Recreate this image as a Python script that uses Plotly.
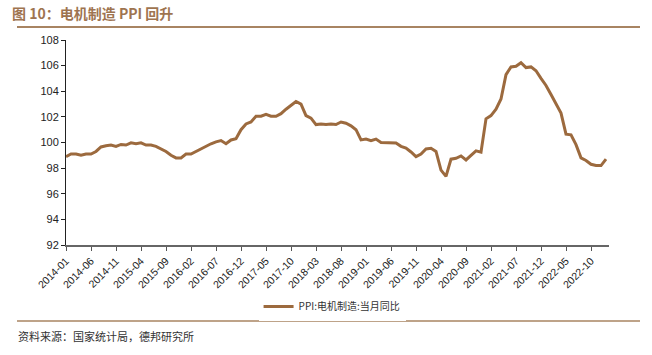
import pandas as pd
import plotly.graph_objects as go

months = [d.strftime("%Y-%m") for d in pd.date_range("2014-01-01", "2023-01-01", freq="MS")]

ppi = [
    98.9, 99.1, 99.1, 99.0, 99.1, 99.1, 99.3, 99.65, 99.75, 99.8, 99.7, 99.85,
    99.8, 99.97, 99.9, 99.97, 99.8, 99.8, 99.7, 99.5, 99.3, 99.0, 98.8, 98.8,
    99.1, 99.1, 99.3, 99.55, 99.75, 99.9, 100.05, 100.15, 99.9, 100.2, 100.3, 101.0,
    101.45, 101.6, 102.05, 102.05, 102.2, 102.05, 102.05, 102.25, 102.6, 102.9, 103.2, 103.0,
    102.1, 101.9, 101.4, 101.45, 101.4, 101.45, 101.4, 101.6, 101.5, 101.3, 101.0, 100.2,
    100.27, 100.14, 100.27, 100.0, 100.0, 99.96, 99.96, 99.7, 99.57, 99.26, 98.9, 99.1,
    99.5, 99.55, 99.3, 97.85, 97.35, 98.7, 98.77, 98.95, 98.64, 99.0, 99.35, 99.25,
    101.85, 102.1, 102.6, 103.4, 105.3, 105.9, 105.95, 106.23, 105.85, 105.9, 105.6, 105.0,
    104.45, 103.75, 103.05, 102.3, 100.65, 100.6, 99.83, 98.8, 98.6, 98.3, 98.2, 98.2,
    98.7,
]

tick_labels = months[::5]
y_ticks = [92, 94, 96, 98, 100, 102, 104, 106, 108]

series_name = "PPI:电机制造:当月同比"
title_text = "图 10：电机制造 PPI 回升"
source_text = "资料来源：国家统计局，德邦研究所"

LINE = "#9c6a3e"
TITLE_C = "#9e7450"
CJK = "Noto Sans CJK SC"

fig = go.Figure()
fig.add_trace(go.Scatter(
    x=months, y=ppi, mode="lines", name=series_name,
    line=dict(color=LINE, width=3),
))

fig.update_layout(
    width=652, height=355,
    margin=dict(l=66, r=43, t=40, b=110, autoexpand=False),
    paper_bgcolor="white", plot_bgcolor="white",
    font=dict(family="Liberation Sans, Arial", color="#222", size=11),
    showlegend=True,
    legend=dict(
        orientation="h", x=0.49, xanchor="center", y=-0.30, yanchor="middle",
        font=dict(family=CJK, size=10, color="#333"),
        itemwidth=30,
    ),
    xaxis=dict(
        type="category", automargin=False,
        range=[0, 108.6],
        tickmode="array", tickvals=tick_labels, ticktext=tick_labels,
        tickangle=-45,
        ticks="outside", ticklen=4, tickcolor="#555",
        showline=True, linecolor="#666", linewidth=1.5,
        showgrid=False, zeroline=False,
        tickfont=dict(size=10.5, color="#222"),
    ),
    yaxis=dict(
        range=[92, 108], automargin=False,
        tickmode="array", tickvals=y_ticks,
        ticks="outside", ticklen=4, tickcolor="#222",
        showline=True, linecolor="#222", linewidth=1,
        showgrid=False, zeroline=False,
        tickfont=dict(size=11, color="#222"),
    ),
    annotations=[
        dict(text="<b>" + title_text + "</b>", xref="paper", yref="paper",
             x=(10 - 66) / 543, y=(245 - 13) / 205, xanchor="left", yanchor="middle",
             showarrow=False, font=dict(family=CJK, size=14, color=TITLE_C)),
        dict(text=source_text, xref="paper", yref="paper",
             x=(16 - 66) / 543, y=(245 - 336) / 205, xanchor="left", yanchor="middle",
             showarrow=False, font=dict(family=CJK, size=11, color="#333")),
    ],
    shapes=[
        dict(type="line", xref="paper", yref="paper",
             x0=(17 - 66) / 543, x1=(640 - 66) / 543,
             y0=(245 - 27) / 205, y1=(245 - 27) / 205,
             line=dict(color="#a88462", width=2)),
        dict(type="line", xref="paper", yref="paper",
             x0=(17 - 66) / 543, x1=(640 - 66) / 543,
             y0=(245 - 321) / 205, y1=(245 - 321) / 205,
             line=dict(color="#a88462", width=1.5)),
    ],
)

fig.write_html(
    "out.html",
    config={"displayModeBar": False},
    post_script="document.body.style.margin='0';document.body.style.overflow='hidden';",
)
